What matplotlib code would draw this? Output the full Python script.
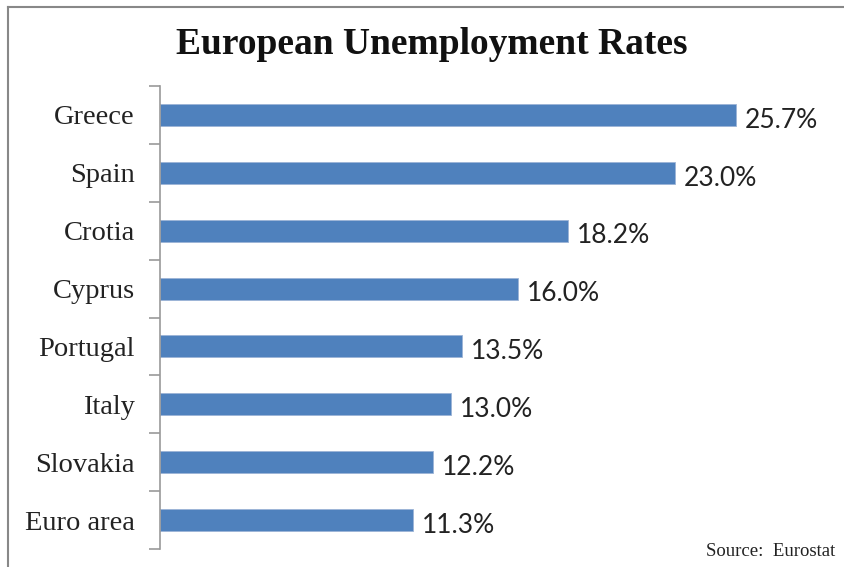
import matplotlib
matplotlib.use("Agg")
import matplotlib.pyplot as plt
from matplotlib.lines import Line2D

# data
countries = ["Greece", "Spain", "Crotia", "Cyprus", "Portugal", "Italy", "Slovakia", "Euro area"]
rates = [25.7, 23.0, 18.2, 16.0, 13.5, 13.0, 12.2, 11.3]
bar_color = "#4F81BD"

fig = plt.figure(figsize=(8.45, 5.67), dpi=100)
ax = fig.add_axes([160 / 845, 1 - 549 / 567, (832 - 160) / 845, (549 - 86) / 567])

pos = list(range(len(countries)))
ax.barh(pos, rates, height=0.38, color=bar_color, edgecolor="#9CB4D6", linewidth=0.6)
ax.set_ylim(len(countries) - 0.5, -0.5)
ax.set_xlim(0, 30)

# value labels
for y, v in zip(pos, rates):
    ax.text(v + 0.4, y + 0.09, f"{v:.1f}%", va="center", ha="left",
            fontsize=19, family="Lato", color="#222222")

# axis styling
for s in ["top", "right", "bottom"]:
    ax.spines[s].set_visible(False)
ax.spines["left"].set_color("#999999")
ax.spines["left"].set_linewidth(1.2)
ax.set_xticks([])
ax.set_yticks([p - 0.5 for p in pos] + [len(countries) - 0.5])
ax.set_yticklabels([])
ax.tick_params(axis="y", length=8, color="#999999", width=1.2)
ax.set_yticks(pos, minor=True)
ax.set_yticklabels(countries, minor=True, family="Liberation Serif", fontsize=20.5, color="#222222")
ax.tick_params(axis="y", which="minor", length=0, pad=18)
for lbl in ax.get_yticklabels(minor=True):
    lbl.set_y(lbl.get_position()[1])

fig.text(432 / 845, 1 - 44 / 567, "European Unemployment Rates", ha="center", va="center",
         fontsize=27, fontweight="bold", family="Liberation Serif", color="#111111")
fig.text(835 / 845, 1 - 551 / 567, "Source:  Eurostat", ha="right", va="center",
         fontsize=13.5, family="Liberation Serif", color="#222222")

# chart border (top and left visible)
fig.add_artist(Line2D([8 / 845, 1], [1 - 7 / 567, 1 - 7 / 567], transform=fig.transFigure,
                      color="#888888", linewidth=1.5))
fig.add_artist(Line2D([8 / 845, 8 / 845], [0, 1 - 7 / 567], transform=fig.transFigure,
                      color="#888888", linewidth=1.5))

fig.savefig("out.png", dpi=100)
